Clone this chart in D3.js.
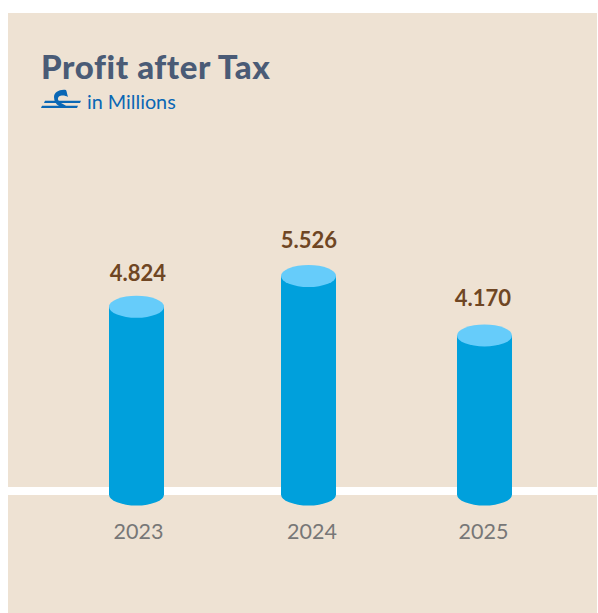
<!DOCTYPE html>
<html>
<head>
<meta charset="utf-8">
<script src="https://cdn.jsdelivr.net/npm/d3@7"></script>
<style>
html, body { margin: 0; padding: 0; background: #fff; }
svg { display: block; }
</style>
</head>
<body>
<div id="chart"></div>
<script>
const years = ["2023", "2024", "2025"];
const profit = [4.824, 5.526, 4.170];
const titleText = "Profit after Tax";
const unitText = "in Millions";

const width = 598, height = 613;
const barWidth = 55, capRy = 11;
const baseY = 494.5;

const svg = d3.select("#chart").append("svg")
  .attr("width", width).attr("height", height)
  .attr("viewBox", [0, 0, width, height]);

// Panel and the white ground band
svg.append("rect").attr("x", 8).attr("y", 13).attr("width", 589).attr("height", 600).attr("fill", "#eee2d3");
svg.append("rect").attr("x", 8).attr("y", 487).attr("width", 589).attr("height", 8).attr("fill", "#fff");

const x = d3.scaleOrdinal().domain(years).range([136.5, 308.5, 484.5]);
const y = d3.scaleLinear().domain([0.52, 5.526]).range([baseY + 1, 276]);

// Label anchors sit on their own slots rather than on the bar centres
const valueX = d3.scaleOrdinal().domain(years).range([138, 309, 483]);
const valueY = d3.scaleOrdinal().domain(years).range([281, 248, 306]);
const yearX = d3.scaleOrdinal().domain(years).range([138.5, 312, 483.5]);

const bars = svg.append("g").selectAll("g")
  .data(years.map((year, i) => ({ year, value: profit[i] })))
  .join("g");

// Cylinder body: straight sides with a rounded bottom
bars.append("path")
  .attr("fill", "#00a0dc")
  .attr("d", d => {
    const l = x(d.year) - barWidth / 2, r = x(d.year) + barWidth / 2, t = y(d.value);
    return `M${l},${t}L${l},${baseY}A${barWidth / 2},${capRy} 0 0 0 ${r},${baseY}L${r},${t}Z`;
  });

// Cylinder top
bars.append("ellipse")
  .attr("cx", d => x(d.year))
  .attr("cy", d => y(d.value))
  .attr("rx", barWidth / 2).attr("ry", capRy)
  .attr("fill", "#66ccfa");

// Value labels
bars.append("text")
  .attr("x", d => valueX(d.year))
  .attr("y", d => valueY(d.year))
  .attr("text-anchor", "middle")
  .attr("font-family", "Lato, sans-serif")
  .attr("font-weight", 700)
  .attr("font-size", 22)
  .attr("fill", "#6f4623")
  .text(d => d3.format(".3f")(d.value));

// Year labels
bars.append("text")
  .attr("x", d => yearX(d.year))
  .attr("y", 539)
  .attr("text-anchor", "middle")
  .attr("font-family", "Lato, sans-serif")
  .attr("font-size", 21.5)
  .attr("fill", "#777777")
  .text(d => d.year);

// Heading
svg.append("text")
  .attr("x", 41).attr("y", 79)
  .attr("font-family", "Lato, sans-serif")
  .attr("font-weight", 900)
  .attr("font-size", 33)
  .attr("letter-spacing", 0.6)
  .attr("fill", "#4a5b76")
  .text(titleText);

// Wave emblem beside the unit note
const emblem = svg.append("g").attr("fill", "#0a67b5");
emblem.append("path").attr("d", "M45,100.8 L81,100.8 L80,103 L44,103 Z");
emblem.append("path").attr("d", "M42,105.8 L78,105.8 L77,108 L41,108 Z");
emblem.append("path").attr("d", "M54,97 C54,92 60,89 66,90 C67,92 67,94 68,97 C65,95 61,95 59,96.5 C57,98.5 58,101 61,103 C63,104 65,105 66,106 L59,106 C56,104.5 54,101 54,97 Z");

svg.append("text")
  .attr("x", 87).attr("y", 109)
  .attr("font-family", "Lato, sans-serif")
  .attr("font-size", 19.8)
  .attr("fill", "#0a67b5")
  .text(unitText);
</script>
</body>
</html>
